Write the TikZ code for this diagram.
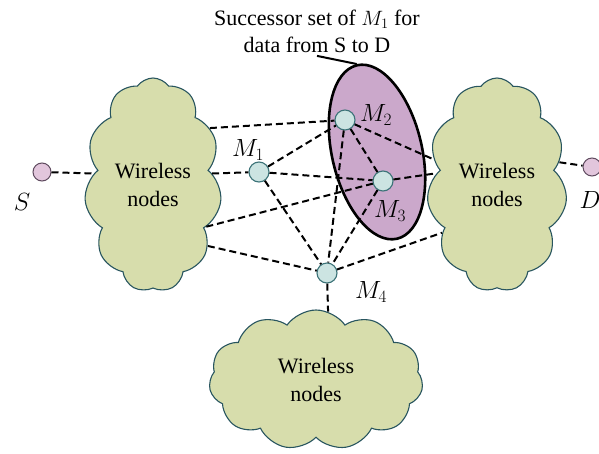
\documentclass[tikz,border=0pt]{standalone}
\usepackage{fontspec}
\setmainfont{Liberation Serif}
\usetikzlibrary{shapes.symbols, shapes.geometric}
\definecolor{cloudfill}{RGB}{215,221,172}
\definecolor{clouddraw}{RGB}{40,85,95}
\definecolor{succfill}{RGB}{203,168,203}
\definecolor{relayfill}{RGB}{204,228,226}
\definecolor{relaydraw}{RGB}{60,115,120}
\definecolor{endfill}{RGB}{226,198,220}
\definecolor{enddraw}{RGB}{95,75,95}

\begin{document}
\begin{tikzpicture}[
		x=1pt, y=-1pt,
		cloudnode/.style={cloud, draw=clouddraw, fill=cloudfill, line width=1.1pt, cloud puffs=11, cloud puff arc=110, cloud ignores aspect, align=center, inner sep=0pt, font=\fontsize{22}{28}\selectfont},
		relay/.style={circle, draw=relaydraw, fill=relayfill, line width=1.1pt, minimum size=20pt, inner sep=0pt},
		endpt/.style={circle, draw=enddraw, fill=endfill, line width=1pt, minimum size=18pt, inner sep=0pt},
		link/.style={line width=2pt, dash pattern=on 7pt off 4pt},
		lbl/.style={font=\fontsize{24}{28}\selectfont}
		]
		\useasboundingbox (0,0) rectangle (599,453);
		
		% Successor set
		\node[ellipse, draw, fill=succfill, line width=2.6pt, minimum width=90pt, minimum height=178pt, rotate=13] (succ) at (377,152) {};
		\node[align=center, font=\fontsize{22}{27}\selectfont] (title) at (317,31) {Successor set of $M_1$ for \\ data from S to D};
		\draw[line width=2pt] (title.south) -- (succ.north);
		
		% Define Nodes
		\node[cloudnode, minimum width=137pt, minimum height=214pt] (lcloud) at (153,185) {Wireless \\ nodes};
		\node[cloudnode, minimum width=140pt, minimum height=214pt] (rcloud) at (497,185) {Wireless \\ nodes};
		\node[cloudnode, minimum width=214pt, minimum height=140pt] (bcloud) at (316,380) {Wireless \\ nodes};
		
		\node[endpt] (S) at (42,172) {};
		\node[endpt] (D) at (592,167) {};
		\node[relay] (M1) at (259,172) {};
		\node[relay] (M2) at (345,120) {};
		\node[relay] (M3) at (383,181) {};
		\node[relay] (M4) at (327,273) {};
		
		\node[lbl] (Slbl) at (22,202) {$S$};
		\node[lbl] (Dlbl) at (590,200) {$D$};
		\node[lbl] (M1lbl) at (248,150) {$M_1$};
		\node[lbl] (M2lbl) at (376,115) {$M_2$};
		\node[lbl] (M3lbl) at (390,211) {$M_3$};
		\node[lbl] (M4lbl) at (371,292) {$M_4$};
		
		% Links
		\draw[link] (S) -- (lcloud.169);
		\draw[link] (lcloud.45) -- (M2);
		\draw[link] (lcloud.11) -- (M1);
		\draw[link] (lcloud.-38) -- (M3);
		\draw[link] (lcloud.-48) -- (M4);
		\draw[link] (M1) -- (M2);
		\draw[link] (M1) -- (M3);
		\draw[link] (M1) -- (M4);
		\draw[link] (M2) -- (M3);
		\draw[link] (M2) -- (M4);
		\draw[link] (M3) -- (M4);
		\draw[link] (M2) -- (rcloud.158);
		\draw[link] (M3) -- (rcloud.169);
		\draw[link] (M4) -- (rcloud.221);
		\draw[link] (rcloud.20) -- (D);
		\draw[link] (M4) -- (bcloud.80);
		
	\end{tikzpicture}
\end{document}
